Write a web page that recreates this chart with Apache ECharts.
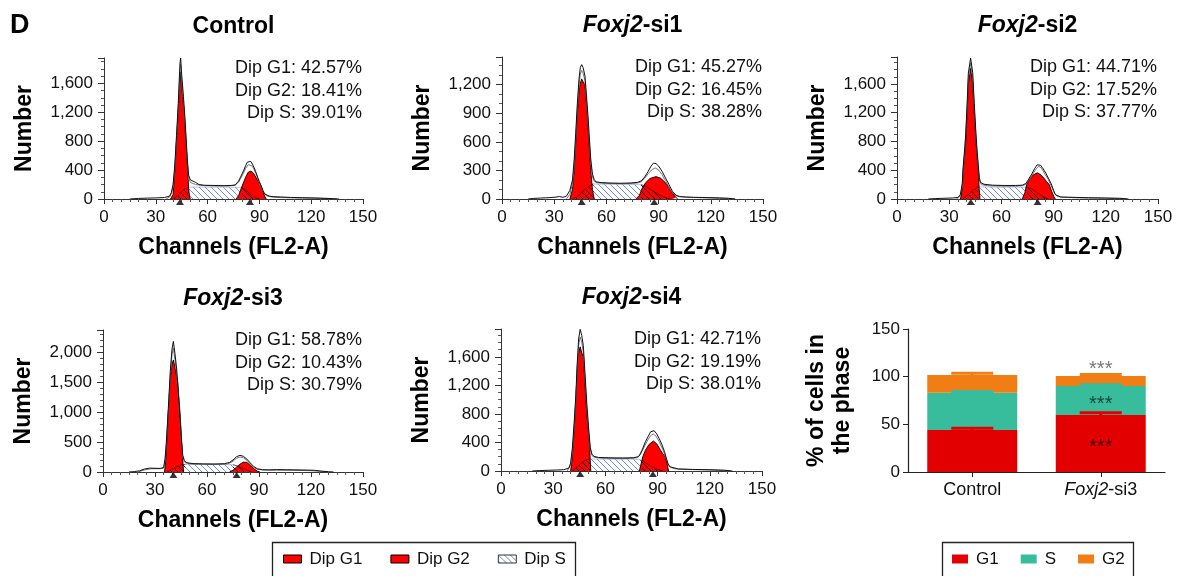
<!DOCTYPE html>
<html><head><meta charset="utf-8">
<script src="https://cdn.jsdelivr.net/npm/echarts@6/dist/echarts.min.js"></script>
<style>html,body{margin:0;padding:0;background:#fff}#c{width:1179px;height:576px}</style>
</head><body><div id="c"></div>
<script>
// ---------- text ----------
const panelTitles = ['Control', 'Foxj2-si1', 'Foxj2-si2', 'Foxj2-si3', 'Foxj2-si4'];
const dipG1Pct = ['42.57%', '45.27%', '44.71%', '58.78%', '42.71%'];
const dipG2Pct = ['18.41%', '16.45%', '17.52%', '10.43%', '19.19%'];
const dipSPct  = ['39.01%', '38.28%', '37.77%', '30.79%', '38.01%'];
const yMaxes = [1950, 1490, 1975, 2370, 1990];
const ySteps = [400, 300, 400, 500, 400];

// ---------- Control ----------
const g1Control = [[38.5,0],[40,60],[41,380],[42,800],[43,1200],[44,1650],[44.4,1760],[45,1560],[46,1300],[46.5,1200],[47,960],[47.5,780],[48,560],[48.5,400],[49,150],[49.5,40],[50,0]];
const g2Control = [[76.5,0],[78,50],[79.5,150],[80.5,210],[82,300],[83.5,370],[85,386],[86.5,360],[88,300],[89.5,240],[90.7,200],[92,110],[93,40],[94,0]];
const sRiseControl = [[40,0],[42,35],[44,80],[46,125],[48.5,165]];
const sFlatControl = [[52,166],[60,165],[70,163],[78,162]];
const sFallControl = [[80,158],[82,125],[84,85],[86,45],[88,15],[90,0]];
const dataControl = [[15,0],[20,8],[25,12],[30,15],[35,20],[38,40],[39,90],[40,200],[41,470],[42,880],[43,1320],[44,1880],[44.4,1950],[45,1720],[46,1420],[47,1080],[48,660],[48.5,470],[49,330],[50,265],[51,268],[53,230],[55,200],[58,190],[62,188],[66,186],[70,185],[74,188],[76,195],[77,210],[78,250],[79,300],[80,350],[81,400],[82,460],[83,510],[84,528],[85,520],[86,480],[87,430],[88,370],[89,300],[90,240],[91,180],[92,120],[93,70],[94,45],[96,38],[98,32],[102,28],[108,22],[115,18],[122,15],[128,10],[133,4],[136,0]];
const fitControl = [[36,0],[38,30],[39,70],[40,170],[41,420],[42,830],[43,1250],[44,1780],[44.4,1860],[45,1640],[46,1350],[47,1020],[48,610],[49,300],[50,230],[51,215],[53,200],[58,185],[65,180],[72,180],[76,190],[78,235],[80,320],[82,420],[83.5,475],[84.5,490],[86,455],[88,350],[90,225],[92,110],[94,45],[97,28],[102,20],[110,15],[120,10],[130,5],[135,0]];
const peaksControl = [[44,0],[84.5,0]];

// ---------- Foxj2-si1 ----------
const g1Si1 = [[39,0],[40.5,100],[41.5,300],[42.4,600],[43.3,900],[44.2,1100],[44.8,1200],[45.8,1260],[46.6,1230],[47.7,1200],[48.3,1050],[49,900],[50,600],[51,300],[52,100],[53,0]];
const g2Si1 = [[77,0],[79,40],[80.5,110],[82.5,170],[85,215],[88.5,235],[91,220],[94,170],[96,120],[98,60],[100,15],[101,0]];
const sRiseSi1 = [[41,0],[44,40],[47,90],[50,135],[52.5,158]];
const sFlatSi1 = [[56,156],[65,154],[75,152]];
const sFallSi1 = [[80,150],[83,130],[86,95],[89,60],[92,30],[95,8],[97,0]];
const dataSi1 = [[15,0],[18,6],[22,10],[27,14],[31,20],[33,26],[35,18],[37,30],[39,90],[40.5,200],[41.5,420],[42.4,700],[43.3,1000],[44.2,1250],[45,1380],[45.8,1410],[46.6,1380],[47.7,1290],[48.5,1100],[49.3,900],[50,700],[51,420],[52,260],[53,205],[54,180],[57,172],[62,168],[68,165],[74,168],[78,175],[80,190],[82,230],[84,290],[85.5,340],[87,376],[88.5,372],[90,345],[92,290],[94,220],[96,150],[98,80],[100,40],[102,25],[106,20],[110,18],[118,15],[125,12],[130,8],[134,0]];
const fitSi1 = [[37,0],[39,50],[40.5,160],[41.5,360],[42.4,650],[43.3,950],[44.2,1180],[45,1310],[45.8,1350],[46.6,1320],[47.7,1240],[48.5,1050],[49.3,850],[50,650],[51,380],[52,230],[53,185],[55,170],[60,163],[70,160],[78,168],[80,180],[82,215],[84,265],[86,305],[88,326],[90,305],[92,255],[94,190],[96,125],[98,65],[100,35],[104,22],[110,16],[120,10],[134,0]];
const peaksSi1 = [[45.8,0],[87.5,0]];

// ---------- Foxj2-si2 ----------
const g1Si2 = [[36.5,0],[37.5,150],[38.1,400],[39,650],[39.5,800],[40.3,1200],[41,1600],[42.3,1820],[43.5,1600],[44.4,1200],[45.4,800],[46,600],[46.7,400],[47.2,150],[47.7,0]];
const g2Si2 = [[72,0],[73.5,90],[74.5,200],[76,270],[78,330],[80.6,365],[82.5,340],[84.5,290],[86,240],[87.5,200],[89,100],[90.2,30],[91,0]];
const sRiseSi2 = [[38,0],[40.5,50],[43,110],[46.5,170]];
const sFlatSi2 = [[50,168],[60,164],[70,165]];
const sFallSi2 = [[75,163],[77,145],[80,100],[83,50],[85.5,15],[87,0]];
const dataSi2 = [[18,0],[22,6],[27,10],[32,14],[35,22],[36.5,60],[37.5,220],[38.1,470],[39,730],[39.5,900],[40.3,1320],[41,1750],[42.3,1960],[43.5,1760],[44.4,1330],[45.4,900],[46,680],[46.7,470],[47.3,300],[48,230],[50,205],[55,192],[62,188],[68,188],[72,192],[73,195],[74,215],[75,250],[76,290],[77.5,350],[79,420],[80.5,475],[81.5,487],[82.5,470],[84,420],[85.5,360],[87,290],[88.5,220],[90,120],[91,60],[92,40],[94,28],[100,24],[110,18],[120,14],[128,10],[133,0]];
const fitSi2 = [[34,0],[36,30],[37.5,180],[38.1,430],[39,690],[40.3,1260],[41,1680],[42.3,1890],[43.5,1690],[44.4,1270],[45.4,850],[46.7,430],[47.5,250],[48.5,200],[52,185],[60,178],[68,178],[72,185],[74,205],[76,270],[78,345],[80,420],[81.5,455],[83,430],[85,345],[87,270],[89,160],[90.5,80],[92,40],[95,24],[105,15],[120,10],[132,0]];
const peaksSi2 = [[42.4,0],[80.8,0]];

// ---------- Foxj2-si3 ----------
const g1Si3 = [[35.5,0],[36.2,200],[36.8,500],[37.7,1000],[38.7,1500],[39.8,1800],[40.6,1870],[41.5,1750],[43.1,1500],[44.4,1000],[45.4,500],[46,200],[46.5,0]];
const g2Si3 = [[73,0],[75,30],[77,80],[79,130],[81,165],[83,160],[85,110],[87,55],[89,15],[90.5,0]];
const sRiseSi3 = [[37,0],[39.5,40],[42,80],[45,118],[47.5,128]];
const sFlatSi3 = [[55,126],[65,124],[72,124]];
const sFallSi3 = [[75,122],[78,95],[81,55],[84,20],[86,0]];
const dataSi3 = [[15,0],[18,6],[21,20],[24,50],[27,65],[30,62],[33,60],[35,75],[35.8,220],[36.5,480],[37.2,820],[38,1230],[38.8,1680],[39.8,2050],[40.6,2180],[41.5,1980],[42.5,1720],[43.5,1300],[44.4,900],[45.3,520],[46,280],[47,190],[48,155],[52,140],[58,136],[64,134],[70,138],[73,160],[75,200],[77,255],[79,278],[81,262],[83,215],[85,150],[87,90],[89,55],[92,38],[96,35],[100,40],[106,38],[112,35],[118,32],[122,28],[126,15],[130,5],[133,0]];
const fitSi3 = [[20,0],[24,35],[28,55],[33,55],[35,65],[35.8,190],[36.5,440],[37.2,770],[38,1160],[38.8,1600],[39.8,1960],[40.6,2070],[41.5,1880],[42.5,1640],[43.5,1240],[44.4,850],[45.3,480],[46,250],[47,170],[50,135],[58,128],[66,126],[72,135],[75,180],[77,230],[79,250],[81,238],[83,195],[85,130],[87,75],[89,45],[93,32],[100,30],[110,28],[120,22],[126,10],[130,0]];
const peaksSi3 = [[40.6,0],[77.1,0]];

// ---------- Foxj2-si4 ----------
const g1Si4 = [[40,0],[40.8,150],[41.6,400],[42.6,800],[43.4,1200],[44.1,1600],[45.5,1740],[46.5,1650],[47.4,1600],[48.3,1200],[49.3,800],[50.8,400],[51.3,150],[51.6,0]];
const g2Si4 = [[79.5,0],[80.5,100],[81.5,200],[83,290],[85,370],[87.6,420],[89.5,380],[91.5,300],[93,240],[94.4,200],[95.5,100],[96.3,0]];
const sRiseSi4 = [[41,0],[43.5,50],[46,110],[49,160],[51,168]];
const sFlatSi4 = [[56,167],[66,165],[75,165],[79,164]];
const sFallSi4 = [[81,150],[83,120],[85,85],[88,45],[91,15],[93,0]];
const dataSi4 = [[18,0],[22,6],[27,10],[32,14],[36,18],[39,40],[40,110],[41,320],[42,660],[43,1060],[43.8,1500],[44.6,1850],[45.5,1985],[46.4,1900],[47.3,1760],[48.3,1360],[49.3,950],[50.3,620],[51.3,330],[52.3,235],[53.5,205],[56,190],[62,185],[70,183],[76,186],[79,200],[80,240],[81,290],[82,350],[83,410],[84.5,480],[86,550],[87,574],[88,565],[89.5,520],[91,450],[92.5,370],[94,270],[95,180],[96,100],[97,60],[98,40],[102,28],[110,22],[120,18],[128,12],[133,0]];
const fitSi4 = [[38,0],[40,80],[41,270],[42,610],[43,1000],[43.8,1420],[44.6,1760],[45.5,1880],[46.4,1800],[47.3,1670],[48.3,1290],[49.3,890],[50.3,570],[51.3,300],[52.3,215],[54,190],[58,180],[66,175],[74,175],[78,185],[80,225],[82,320],[84,420],[86,495],[87.5,520],[89,490],[91,410],[93,300],[94.5,200],[96,100],[97.5,50],[100,30],[110,20],[120,14],[132,0]];
const peaksSi4 = [[45.5,0],[87.3,0]];

// ---------- bar chart ----------
const barCategories = ['Control', 'Foxj2-si3'];
const pctG1 = [44.0, 59.8];
const pctS  = [39.2, 30.4];
const pctG2 = [18.5, 10.5];
const errG1 = [2.5, 2.8];
const errS  = [1.8, 1.8];
const errG2 = [2.3, 2.0];
const sigG1 = ['', '***'];
const sigS  = ['', '***'];
const sigG2 = ['', '***'];

// ---------- assembly ----------
const FONT = "'Liberation Sans', Arial, Helvetica, sans-serif";
const panels = [
  {g1: g1Control, g2: g2Control, sR: sRiseControl, sF: sFlatControl, sD: sFallControl, data: dataControl, fit: fitControl, peaks: peaksControl},
  {g1: g1Si1, g2: g2Si1, sR: sRiseSi1, sF: sFlatSi1, sD: sFallSi1, data: dataSi1, fit: fitSi1, peaks: peaksSi1},
  {g1: g1Si2, g2: g2Si2, sR: sRiseSi2, sF: sFlatSi2, sD: sFallSi2, data: dataSi2, fit: fitSi2, peaks: peaksSi2},
  {g1: g1Si3, g2: g2Si3, sR: sRiseSi3, sF: sFlatSi3, sD: sFallSi3, data: dataSi3, fit: fitSi3, peaks: peaksSi3},
  {g1: g1Si4, g2: g2Si4, sR: sRiseSi4, sF: sFlatSi4, sD: sFallSi4, data: dataSi4, fit: fitSi4, peaks: peaksSi4}
];
const gridBoxes = [
  {left: 104, top: 58, width: 259, height: 141},
  {left: 502, top: 57, width: 261, height: 142},
  {left: 897, top: 57, width: 261, height: 142},
  {left: 103, top: 330, width: 260, height: 142},
  {left: 501, top: 329, width: 261, height: 142},
  {left: 908, top: 329, width: 257, height: 143}
];

function hatch(lineColor, bg) {
  const c = document.createElement('canvas');
  c.width = 6; c.height = 6;
  const x = c.getContext('2d');
  if (bg) { x.fillStyle = bg; x.fillRect(0, 0, 6, 6); }
  x.strokeStyle = lineColor; x.lineWidth = 1;
  x.beginPath();
  [[-1,-1,7,7],[-7,-1,1,7],[5,-1,13,7]].forEach(([a,b,c2,d]) => { x.moveTo(a,b); x.lineTo(c2,d); });
  x.stroke();
  return c;
}
const blueHatch = {image: hatch('#6f8edb', '#ffffff'), repeat: 'repeat'};
const darkHatch = {image: hatch('#1a0000', null), repeat: 'repeat'};

const italicTitle = t => t.startsWith('Foxj2') ? '{i|Foxj2}' + t.slice(5) : t;

const grid = gridBoxes.map(g => Object.assign({outerBoundsMode: 'none', containLabel: false}, g));
const xAxis = [], yAxis = [], series = [], graphic = [];

panels.forEach((p, i) => {
  const step = ySteps[i];
  xAxis.push({
    type: 'value', gridIndex: i, min: 0, max: 150, interval: 30,
    axisLine: {show: true, lineStyle: {color: '#333', width: 1}},
    axisTick: {show: true, length: 5, lineStyle: {color: '#333'}},
    minorTick: {show: true, splitNumber: 6, length: 3, lineStyle: {color: '#555'}},
    splitLine: {show: false}, minorSplitLine: {show: false},
    axisLabel: {fontSize: 17, color: '#111', margin: 10, fontFamily: FONT},
    name: 'Channels (FL2-A)', nameLocation: 'middle', nameGap: 37,
    nameTextStyle: {fontSize: 23, fontWeight: 'bold', color: '#000', fontFamily: FONT}
  });
  yAxis.push({
    type: 'value', gridIndex: i, min: 0, max: yMaxes[i], interval: step,
    axisLine: {show: true, lineStyle: {color: '#333', width: 1}},
    axisTick: {show: true, length: 6, lineStyle: {color: '#333'}},
    minorTick: {show: true, splitNumber: step / 100, length: 3, lineStyle: {color: '#555'}},
    splitLine: {show: false}, minorSplitLine: {show: false},
    axisLabel: {fontSize: 17, color: '#111', margin: 11, fontFamily: FONT,
      formatter: v => (v % step === 0 ? v.toLocaleString('en-US') : '')},
    name: 'Number', nameLocation: 'middle', nameGap: 68,
    nameTextStyle: {fontSize: 23, fontWeight: 'bold', color: '#000', fontFamily: FONT}
  });
  const base = {type: 'line', xAxisIndex: i, yAxisIndex: i, symbol: 'none', silent: true,
    animation: false, emphasis: {disabled: true}};
  series.push(Object.assign({}, base, {name: 'Dip S', data: [...p.sR, ...p.sF, ...p.sD], z: 1,
    itemStyle: {color: blueHatch},
    lineStyle: {width: 0.6, color: '#8a9bd0'}, areaStyle: {color: blueHatch, opacity: 1}}));
  series.push(Object.assign({}, base, {name: 'Dip G1', data: p.g1, z: 2,
    itemStyle: {color: '#ff0000'},
    lineStyle: {width: 0.9, color: '#000'}, areaStyle: {color: '#ff0000', opacity: 1}}));
  series.push(Object.assign({}, base, {name: 'Dip G2', data: p.g2, z: 2,
    itemStyle: {color: '#ff0000'},
    lineStyle: {width: 0.9, color: '#000'}, areaStyle: {color: '#ff0000', opacity: 1}}));
  series.push(Object.assign({}, base, {name: 'S under G1', data: p.sR, z: 3,
    lineStyle: {width: 0.6, color: '#300'}, areaStyle: {color: darkHatch, opacity: 1}}));
  series.push(Object.assign({}, base, {name: 'S under G2', data: p.sD, z: 3,
    lineStyle: {width: 0.6, color: '#300'}, areaStyle: {color: darkHatch, opacity: 1}}));
  series.push(Object.assign({}, base, {name: 'fit', data: p.fit, z: 4,
    lineStyle: {width: 1, color: '#777'}}));
  series.push(Object.assign({}, base, {name: 'data', data: p.data, z: 5,
    lineStyle: {width: 1, color: '#111'}}));
  series.push({type: 'scatter', name: 'peak', xAxisIndex: i, yAxisIndex: i, data: p.peaks,
    symbol: 'triangle', symbolSize: [8, 6], symbolOffset: [0, 3], clip: false, z: 6,
    silent: true, animation: false, itemStyle: {color: '#000'}});

  const g = gridBoxes[i];
  graphic.push({type: 'text', x: g.left + g.width / 2, y: g.top - 31.5, silent: true,
    style: {text: italicTitle(panelTitles[i]), align: 'center', verticalAlign: 'middle',
      fontSize: 23, fontWeight: 'bold', fontFamily: FONT, fill: '#000',
      rich: {i: {fontSize: 23, fontWeight: 'bold', fontStyle: 'italic', fontFamily: FONT, fill: '#000'}}}});
  const lines = ['Dip G1: ' + dipG1Pct[i], 'Dip G2: ' + dipG2Pct[i], 'Dip S: ' + dipSPct[i]];
  lines.forEach((t, k) => graphic.push({type: 'text', x: g.left + g.width - 1, y: g.top + 10.5 + k * 22.3, silent: true,
    style: {text: t, align: 'right', verticalAlign: 'middle', fontSize: 18, fontFamily: FONT, fill: '#111'}}));
});

// bar chart axes
xAxis.push({
  type: 'category', gridIndex: 5, data: barCategories,
  axisLine: {show: true, lineStyle: {color: '#222', width: 1.2}},
  axisTick: {show: true, alignWithLabel: true, length: 5, lineStyle: {color: '#222'}},
  axisLabel: {fontSize: 18, color: '#111', margin: 9, fontFamily: FONT, formatter: italicTitle,
    rich: {i: {fontSize: 18, fontStyle: 'italic', color: '#111', fontFamily: FONT}}},
  splitLine: {show: false}
});
yAxis.push({
  type: 'value', gridIndex: 5, min: 0, max: 150, interval: 50,
  axisLine: {show: true, lineStyle: {color: '#222', width: 1.2}},
  axisTick: {show: true, length: 5, lineStyle: {color: '#222'}},
  axisLabel: {fontSize: 17, color: '#111', margin: 8, fontFamily: FONT},
  splitLine: {show: false},
  name: '% of cells in\nthe phase', nameLocation: 'middle', nameGap: 52,
  nameTextStyle: {fontSize: 23, fontWeight: 'bold', color: '#000', lineHeight: 26, fontFamily: FONT}
});
const phaseColors = {G1: '#e30000', S: '#37bd9c', G2: '#f07e15'};
[['G1', pctG1], ['S', pctS], ['G2', pctG2]].forEach(([nm, vals]) => {
  series.push({type: 'bar', name: nm, xAxisIndex: 5, yAxisIndex: 5, stack: 'phase', barWidth: 90,
    data: vals, itemStyle: {color: phaseColors[nm]}, animation: false, silent: true, z: 2});
});
const tops = {
  G1: pctG1.map(v => v),
  S: pctG1.map((v, i) => v + pctS[i]),
  G2: pctG1.map((v, i) => v + pctS[i] + pctG2[i])
};
[['G1', errG1], ['S', errS], ['G2', errG2]].forEach(([nm, errs]) => {
  series.push({type: 'custom', name: nm + ' error', xAxisIndex: 5, yAxisIndex: 5, z: 5,
    silent: true, animation: false,
    data: barCategories.map((c, i) => [i, tops[nm][i], errs[i]]),
    renderItem: (params, api) => {
      const p0 = api.coord([api.value(0), api.value(1)]);
      const p1 = api.coord([api.value(0), api.value(1) + api.value(2)]);
      const st = {stroke: phaseColors[nm], lineWidth: 3};
      return {type: 'group', children: [
        {type: 'line', shape: {x1: p0[0], y1: p0[1], x2: p1[0], y2: p1[1]}, style: st},
        {type: 'line', shape: {x1: p1[0] - 21, y1: p1[1] + 0.5, x2: p1[0] + 21, y2: p1[1] + 0.5}, style: st}
      ]};
    }});
});
const sigData = [];
barCategories.forEach((c, i) => {
  if (sigG1[i]) sigData.push({value: [i, pctG1[i] / 2], label: {formatter: sigG1[i], color: '#2a0000'}});
  if (sigS[i]) sigData.push({value: [i, pctG1[i] + pctS[i] / 2], label: {formatter: sigS[i], color: '#0d2a22'}});
  if (sigG2[i]) sigData.push({value: [i, tops.G2[i] + 11], label: {formatter: sigG2[i], color: '#555'}});
});
series.push({type: 'scatter', name: 'sig', xAxisIndex: 5, yAxisIndex: 5, data: sigData, symbolSize: 0,
  silent: true, animation: false, z: 6,
  label: {show: true, position: 'inside', fontSize: 20, fontFamily: FONT, offset: [0, 4]}});

graphic.push({type: 'text', x: 10, y: 26, silent: true,
  style: {text: 'D', verticalAlign: 'middle', fontSize: 27, fontWeight: 'bold', fontFamily: FONT, fill: '#000'}});
graphic.push({type: 'rect', silent: true, shape: {x: 272.5, y: 542.5, width: 303, height: 40},
  style: {fill: 'none', stroke: '#222', lineWidth: 1.3}});
graphic.push({type: 'rect', silent: true, shape: {x: 942.5, y: 542.5, width: 191, height: 40},
  style: {fill: 'none', stroke: '#222', lineWidth: 1.3}});

const option = {
  backgroundColor: '#fff',
  animation: false,
  grid, xAxis, yAxis, series, graphic,
  legend: [
    {left: 283, top: 550.5, padding: 0, itemWidth: 18, itemHeight: 8, itemGap: 28, selectedMode: false,
      icon: 'rect',
      data: [
        {name: 'Dip G1', icon: 'rect', itemStyle: {color: '#ff0000', borderColor: '#000', borderWidth: 1}},
        {name: 'Dip G2', icon: 'rect', itemStyle: {color: '#ff0000', borderColor: '#000', borderWidth: 1}},
        {name: 'Dip S', icon: 'rect', itemStyle: {color: blueHatch, borderColor: '#333', borderWidth: 1}}
      ],
      textStyle: {fontSize: 17, color: '#111', fontFamily: FONT, padding: [0, 0, 0, 3]}},
    {left: 952, top: 550.5, padding: 0, itemWidth: 16, itemHeight: 9, itemGap: 22, selectedMode: false,
      icon: 'rect',
      data: [
        {name: 'G1', icon: 'rect', itemStyle: {color: phaseColors.G1}},
        {name: 'S', icon: 'rect', itemStyle: {color: phaseColors.S}},
        {name: 'G2', icon: 'rect', itemStyle: {color: phaseColors.G2}}
      ],
      textStyle: {fontSize: 17, color: '#111', fontFamily: FONT, padding: [0, 0, 0, 3]}}
  ]
};
const chart = echarts.init(document.getElementById('c'), null, {renderer: 'canvas'});
chart.setOption(option);
</script>
</body></html>
